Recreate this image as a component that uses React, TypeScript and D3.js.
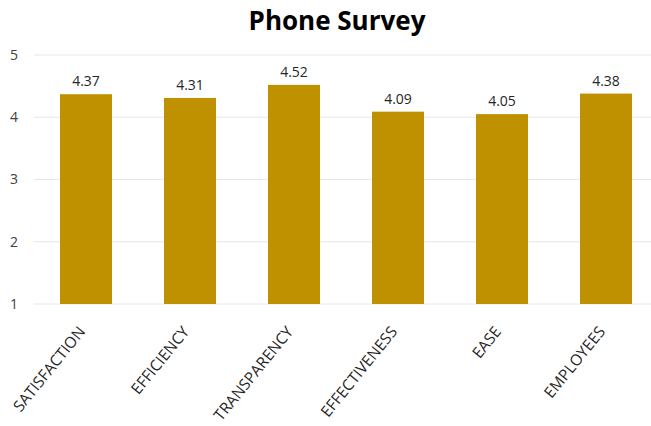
import React from "react";
import * as d3 from "d3";

const categories = ["SATISFACTION", "EFFICIENCY", "TRANSPARENCY", "EFFECTIVENESS", "EASE", "EMPLOYEES"];
const values = [4.37, 4.31, 4.52, 4.09, 4.05, 4.38];
const yTicks = [1, 2, 3, 4, 5];
const title = "Phone Survey";

const W = 651;
const H = 426;
const FONT = "'Open Sans', sans-serif";

export default function App() {
  const x = d3.scaleBand<string>().domain(categories).range([34, 658]).paddingInner(0.5).paddingOuter(0.25);
  const y = d3.scaleLinear().domain([1, 5]).range([304, 55]);
  return (
    <svg width={W} height={H} style={{ position: "absolute", left: 0, top: 0, background: "#fff" }}>
      <text x={337} y={30} textAnchor="middle" fontFamily={FONT} fontWeight="bold" fontSize={26} fill="#000">
        {title}
      </text>
      {yTicks.map((t) => (
        <g key={t}>
          <line x1={34} x2={W} y1={y(t)} y2={y(t)} stroke="#e6e6e6" strokeWidth={1} />
          <text x={14} y={y(t)} dy="0.35em" textAnchor="middle" fontFamily={FONT} fontSize={14} fill="#404040">
            {t}
          </text>
        </g>
      ))}
      {categories.map((c, i) => {
        const bx = x(c)!;
        const bw = x.bandwidth();
        const cx = bx + bw / 2;
        return (
          <g key={c}>
            <rect x={bx} y={y(values[i])} width={bw} height={y(1) - y(values[i])} fill="#BF9000" />
            <text x={cx} y={y(values[i]) - 8} textAnchor="middle" fontFamily={FONT} fontSize={14} fill="#262626">
              {values[i].toFixed(2)}
            </text>
            <text
              transform={`translate(${cx},${332}) rotate(-51)`}
              textAnchor="end"
              fontFamily={FONT}
              fontSize={15.5}
              fill="#262626"
            >
              {c}
            </text>
          </g>
        );
      })}
    </svg>
  );
}
